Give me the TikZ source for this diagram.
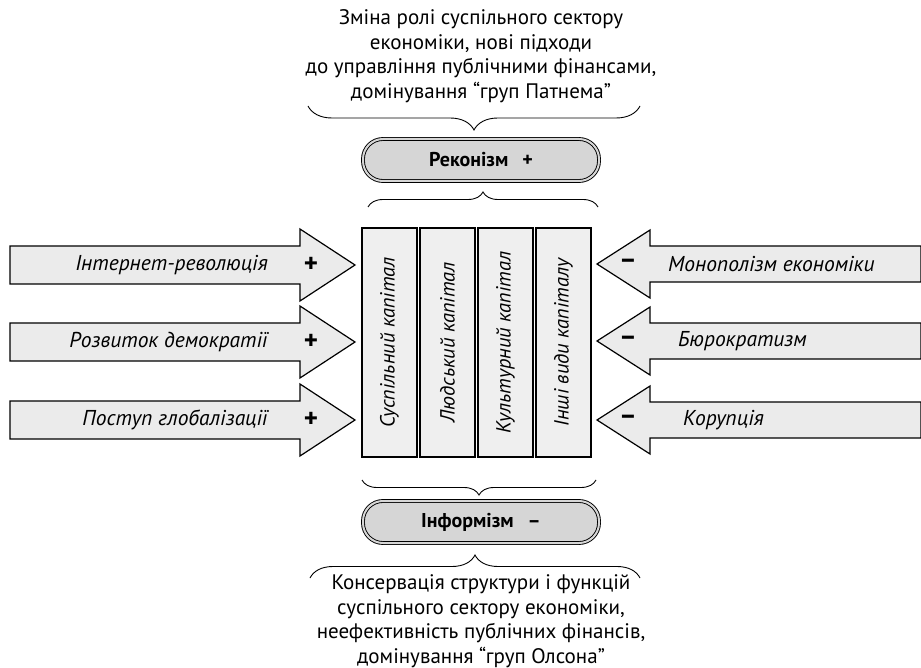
\documentclass[tikz,border=0pt]{standalone}
\usepackage{fontspec}
\setmainfont{PT Sans}
\usetikzlibrary{decorations.pathreplacing}
\definecolor{arrowgray}{HTML}{EBEBEB}
\definecolor{boxgray}{HTML}{EFEFEF}
\definecolor{pillgray}{HTML}{D6D6D6}
\tikzset{
  arrowshape/.style={draw=black,line width=1.2pt,fill=arrowgray,line join=miter},
  factor/.style={font=\fontsize{21.5}{24}\selectfont\itshape,inner sep=0pt},
  sign/.style={font=\fontsize{27}{27}\selectfont\bfseries,inner sep=0pt},
  capbox/.style={draw=black,line width=1.6pt,fill=boxgray,rotate=90,minimum width=229pt,minimum height=55pt,inner sep=0pt,font=\fontsize{20.5}{22}\selectfont\itshape},
  pill/.style={draw=black,double=pillgray,double distance=2pt,line width=0.9pt,fill=pillgray,rounded corners=20pt,minimum width=236pt,minimum height=42pt,font=\fontsize{20}{22}\selectfont\bfseries},
  note/.style={align=center,font=\fontsize{21}{24.5}\selectfont,inner sep=0pt},
  bracket/.style={draw=black,line width=0.9pt,decorate}
}
\begin{document}
\begin{tikzpicture}[x=1pt,y=-1pt]
		\useasboundingbox (0,0) rectangle (921,668);
		\node[note] (top) at (481,56) {Зміна ролі суспільного сектору\\економіки, нові підходи\\до управління публічними фінансами,\\домінування “груп Патнема”};
		\node[pill] (recon) at (481,160) {Реконізм\hspace{14pt}+};
		\node[pill] (inform) at (481,522) {Інформізм\hspace{14pt}–};
		\node[note] (bottom) at (481,621) {Консервація структури і функцій\\суспільного сектору економіки,\\неефективність публічних фінансів,\\домінування “груп Олсона”};
		% capitals
		\foreach \i/\txt in {0/Суспільний капітал,1/Людський капітал,2/Культурний капітал,3/Інші види капіталу}
			\node[capbox] (cap\i) at (389.5+58*\i,342.5) {\txt};
		% braces
		\coordinate (b1l) at (308,106); \coordinate (b1r) at (640,106);
		\coordinate (b2l) at (368,207); \coordinate (b2r) at (598,207);
		\coordinate (b3l) at (362,480); \coordinate (b3r) at (596,480);
		\coordinate (b4l) at (310,578); \coordinate (b4r) at (640,578);
		\draw[bracket,decoration={brace,amplitude=24pt}] (b1r) -- (b1l);
		\draw[bracket,decoration={brace,amplitude=15pt}] (b2l) -- (b2r);
		\draw[bracket,decoration={brace,amplitude=15pt}] (b3r) -- (b3l);
		\draw[bracket,decoration={brace,amplitude=23pt}] (b4l) -- (b4r);
		% positive factors
		\foreach \y/\txt/\n in {265/Інтернет-революція/1,342/Розвиток демократії/2,420/Поступ глобалізації/3}{
			\draw[arrowshape] (10,\y-19) -- (300,\y-19) -- (300,\y-36) -- (355,\y) -- (300,\y+36) -- (300,\y+19) -- (10,\y+19) -- cycle;
			\node[factor,anchor=east] (pos\n) at (268,\y) {\txt};
			\node[sign] (plus\n) at (311,\y) {+};
		}
		% negative factors
		\foreach \y/\txt/\x/\n in {264/Монополізм економіки/668/1,341/Бюрократизм/678/2,420/Корупція/683/3}{
			\draw[arrowshape] (921,\y-18) -- (650,\y-18) -- (650,\y-34) -- (597,\y) -- (650,\y+34) -- (650,\y+18) -- (921,\y+18) -- cycle;
			\node[factor,anchor=west] (neg\n) at (\x,\y) {\txt};
			\node[sign] (minus\n) at (628,\y) {–};
		}
\end{tikzpicture}
\end{document}
